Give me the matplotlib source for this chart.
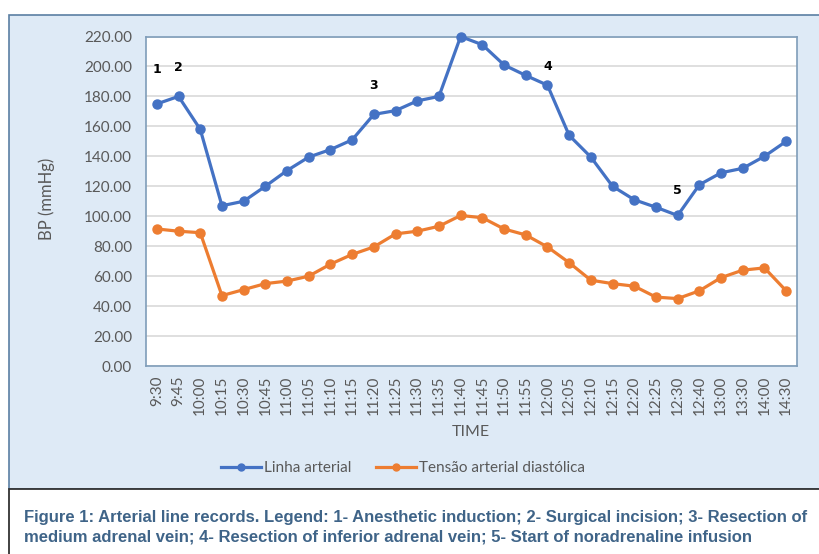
import matplotlib
matplotlib.use("Agg")
import matplotlib.pyplot as plt
from matplotlib.patches import Rectangle
from matplotlib.lines import Line2D

W, H = 820, 554

times = ["9:30", "9:45", "10:00", "10:15", "10:30", "10:45", "11:00", "11:05",
         "11:10", "11:15", "11:20", "11:25", "11:30", "11:35", "11:40", "11:45",
         "11:50", "11:55", "12:00", "12:05", "12:10", "12:15", "12:20", "12:25",
         "12:30", "12:40", "13:00", "13:30", "14:00", "14:30"]
linha_arterial = [175, 180, 158, 107, 110, 120, 130.5, 139.5, 144.5, 151, 168, 170.5,
                  177, 180, 220, 214.5, 201, 194, 187.5, 154, 139.5, 120, 111, 106,
                  100.5, 121, 129, 132, 140, 150]
diastolica = [91.5, 90, 89, 47, 51, 55, 56.7, 60, 68, 74.5, 79.5, 88.2, 90, 93.3,
              100.5, 99, 91.5, 87.5, 79.5, 69, 57.3, 55, 53.3, 46, 45, 50.2, 59, 64,
              65.5, 50.2]
# event markers: (label, category index, y position)
events = [("1", 0, 198), ("2", 1, 199), ("3", 10, 187), ("4", 18, 200), ("5", 24, 117)]

blue = "#4472C4"
orange = "#ED7D31"
panel_bg = "#DEEAF6"
tick_col = "#595959"
font = "Lato"


def px(x0, y0, x1, y1):
    # pixel box (top-left origin) -> figure fraction rect
    return (x0 / W, 1 - y1 / H, (x1 - x0) / W, (y1 - y0) / H)


fig = plt.figure(figsize=(W / 100, H / 100), dpi=100)
fig.patch.set_facecolor("white")

# chart region background
x, y, w, h = px(9, 15, 822, 489)
fig.patches.append(Rectangle((x, y), w, h, transform=fig.transFigure, zorder=-2,
                             facecolor=panel_bg, edgecolor="#5B7FA3", linewidth=1.2))
# caption box
x, y, w, h = px(9, 489, 822, 560)
fig.patches.append(Rectangle((x, y), w, h, transform=fig.transFigure, zorder=-2,
                             facecolor="white", edgecolor="#333333", linewidth=1.3))

ax = fig.add_axes(px(146, 36.5, 797, 366))
ax.set_facecolor("white")
idx = list(range(len(times)))
ax.plot(idx, linha_arterial, color=blue, lw=2.3, marker="o", ms=6.5,
        label="Linha arterial", zorder=3, clip_on=False)
ax.plot(idx, diastolica, color=orange, lw=2.3, marker="o", ms=6.5,
        label="Tensão arterial diastólica", zorder=3, clip_on=False)

for lab, i, yy in events:
    ax.text(i, yy, lab, ha="center", va="center", fontsize=9, fontweight="bold",
            color="black", family="DejaVu Sans")

ax.set_xlim(-0.5, len(times) - 0.5)
ax.set_ylim(0, 220)
ax.set_yticks(range(0, 221, 20))
ax.set_yticklabels([f"{v:.2f}" for v in range(0, 221, 20)], fontsize=11,
                   color=tick_col, family=font)
ax.set_xticks(idx)
ax.set_xticklabels(times, rotation=90, fontsize=11, color=tick_col, family=font)
ax.tick_params(axis="y", length=0, pad=10)
ax.tick_params(axis="x", length=0, pad=7)
ax.grid(axis="y", color="#D9D9D9", lw=1.2)
ax.set_axisbelow(True)
for s in ax.spines.values():
    s.set_color("#7F9DB9")
    s.set_linewidth(1.2)

fig.text(47 / W, 1 - 199 / H, "BP (mmHg)", rotation=90, ha="center", va="center",
         fontsize=12, color=tick_col, family=font)
fig.text(471 / W, 1 - 432 / H, "TIME", ha="center", va="center",
         fontsize=11.5, color=tick_col, family=font)

handles = [Line2D([], [], color=blue, lw=2.3, marker="o", ms=5),
           Line2D([], [], color=orange, lw=2.3, marker="o", ms=5)]
fig.legend(handles, ["Linha arterial", "Tensão arterial diastólica"],
           loc="center", bbox_to_anchor=(403 / W, 1 - 468 / H), ncol=2, frameon=False,
           prop={"family": font, "size": 11}, labelcolor=tick_col,
           handlelength=2.6, handletextpad=0.2, columnspacing=1.6)

cap = ("Figure 1: Arterial line records. Legend: 1- Anesthetic induction; 2- Surgical incision; 3- Resection of\n"
       "medium adrenal vein; 4- Resection of inferior adrenal vein; 5- Start of noradrenaline infusion")
fig.text(24 / W, 1 - 527.5 / H, cap, ha="left", va="center", fontsize=12,
         fontweight="bold", color="#3F6488", family="Liberation Sans", linespacing=1.4)

fig.savefig("out.png", dpi=100)
